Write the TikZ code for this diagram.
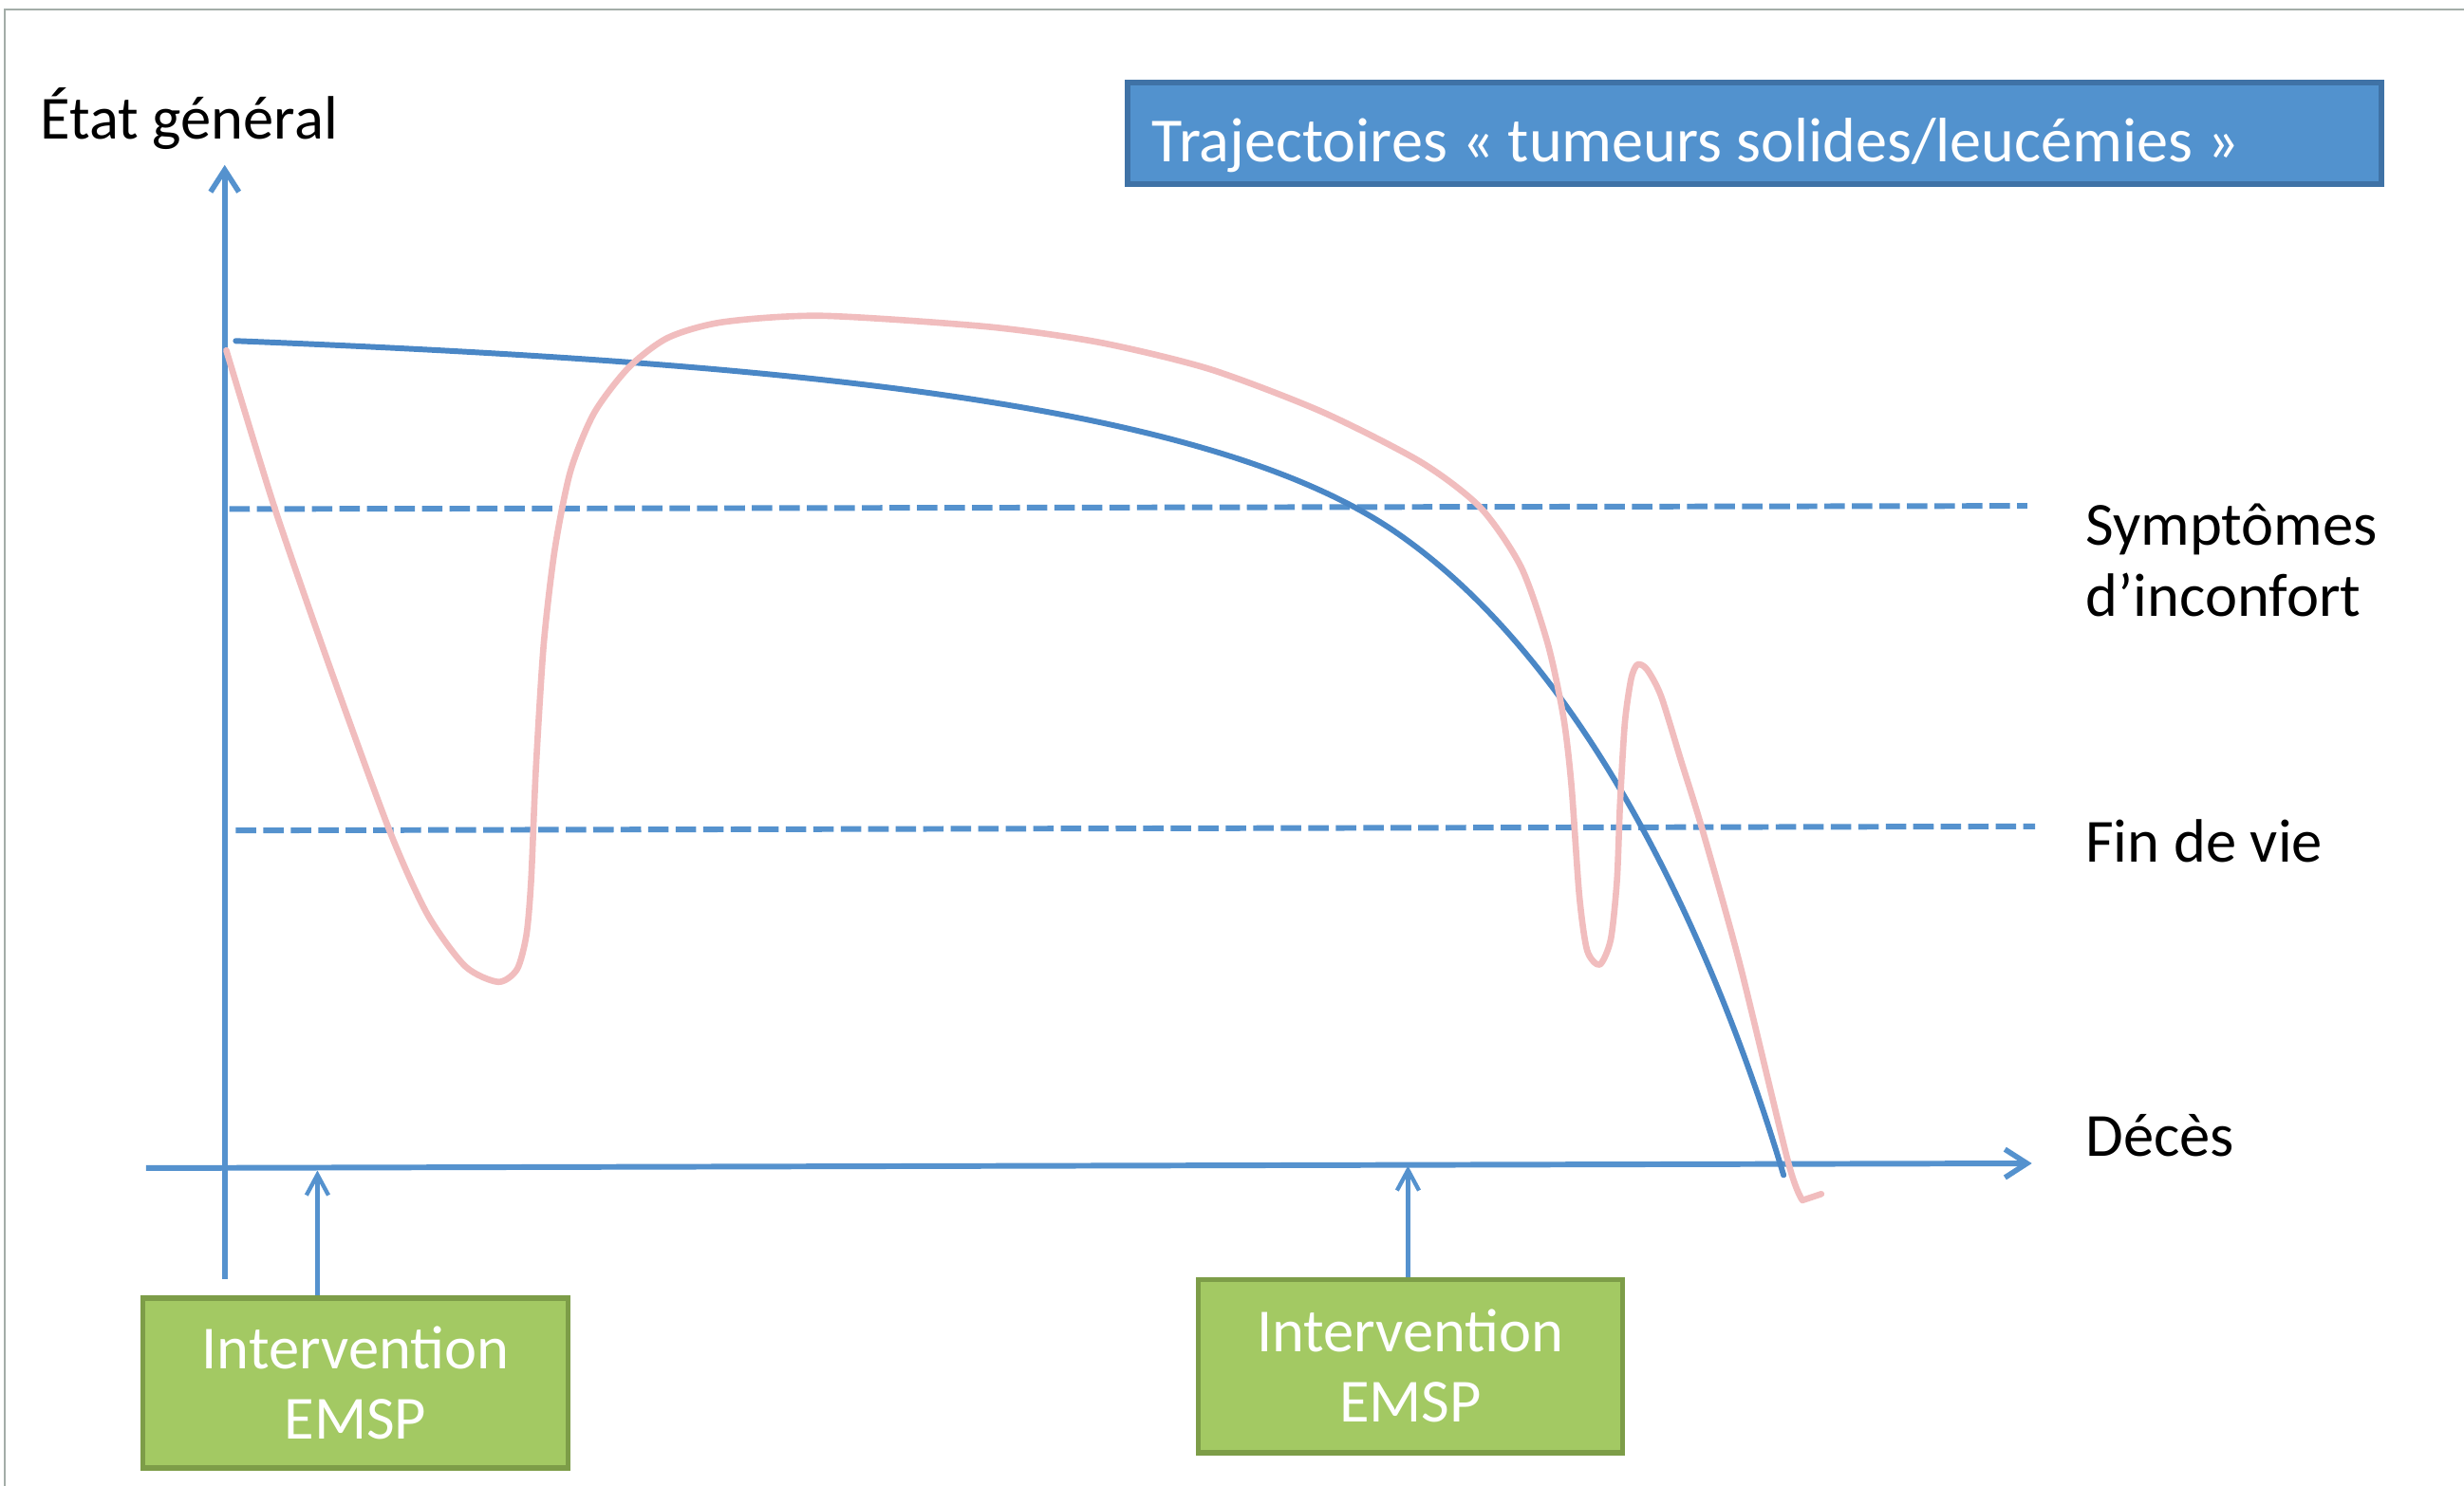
\documentclass[tikz,border=0pt]{standalone}
\usepackage{fontspec}
\setmainfont{Carlito}
\usetikzlibrary{arrows.meta}
\definecolor{axisblue}{HTML}{5592CE}
\definecolor{curveblue}{HTML}{4A87C6}
\definecolor{pinkc}{HTML}{F1BDBE}
\definecolor{titlefill}{HTML}{5292CE}
\definecolor{titledraw}{HTML}{3F72A6}
\definecolor{greenfill}{HTML}{A3C963}
\definecolor{greendraw}{HTML}{7D9D48}
\definecolor{framegray}{HTML}{A3ADA8}
\begin{document}
\begin{tikzpicture}[x=1pt,y=-1pt,
  lab/.style={font=\fontsize{39}{44.5}\selectfont, inner sep=0pt, anchor=base west, text=black},
  axisline/.style={draw=axisblue, line width=3.6pt, -{Straight Barb[length=14pt,width=18pt,line width=3.4pt]}},
  thinarrow/.style={draw=axisblue, line width=2.6pt, -{Straight Barb[length=13pt,width=14pt,line width=2.6pt]}},
  dashline/.style={draw=axisblue, line width=3.6pt, dash pattern=on 13pt off 4.5pt},
  greenbox/.style={draw=greendraw, fill=greenfill, line width=3.5pt, text=white,
    font=\fontsize{39}{44.5}\selectfont, align=center, inner sep=0pt},
  titlebox/.style={draw=titledraw, fill=titlefill, line width=3.5pt, inner sep=0pt},
  curveline/.style={draw=curveblue, line width=3.6pt, line cap=round},
  pinkline/.style={draw=pinkc, line width=4pt, line join=round, line cap=round}]
\useasboundingbox (0,0) rectangle (1568,945.3);
\fill[white] (0,0) rectangle (1568,945.3);
\draw[framegray, line width=1.5pt] (3,960) -- (3,6) -- (1580,6);

% title
\node[titlebox, minimum width=798pt, minimum height=65pt] (title) at (1116.5,84.9) {};
\node[inner sep=0pt, anchor=base west, text=white, font=\fontsize{40}{46}\selectfont] (titletext) at (733,102.7) {Trajectoires « tumeurs solides/leucémies »};

% labels
\node[lab] (etat) at (25.6,88.6) {État général};
\node[lab] (symp1) at (1327,347) {Symptômes};
\node[lab] (symp2) at (1327,392) {d’inconfort};
\node[lab] (fin) at (1327,549) {Fin de vie};
\node[lab] (deces) at (1327,736) {Décès};

% axes
\coordinate (yb) at (143,814);
\coordinate (yt) at (143,105);
\coordinate (xl) at (93,743.5);
\coordinate (xr) at (1293,740.5);
\draw[axisline] (yb) -- (yt);
\draw[axisline] (xl) -- (xr);

% dashed thresholds
\coordinate (d1a) at (146,324);
\coordinate (d1b) at (1290,322);
\coordinate (d2a) at (150,528.6);
\coordinate (d2b) at (1295,526);
\draw[dashline] (d1a) -- (d1b);
\draw[dashline] (d2a) -- (d2b);

% blue trajectory
\coordinate (b0) at (150,217);
\coordinate (b1) at (890,340);
\coordinate (b2) at (1135,748);
\draw[curveline] (b0) .. controls (500,231) and (770,256) .. (b1)
  .. controls (1022,432) and (1100,630) .. (b2);

% pink trajectory
\draw[pinkline] plot[smooth, tension=0.45] coordinates {(144,223) (175,324) (210,425) (248,529) (272,582) (296,615) (317,625) (329,617) (335,595) (338,560) (341,490) (346,410) (353,350) (363,300) (378,263) (400,234) (425,215) (460,205) (523,201) (629,208) (700,218) (770,235) (841,262) (904,294) (942,323) (968,361) (985,410) (995,457) (1000,500) (1005,570) (1010,605) (1018,614) (1025,598) (1029,560) (1031,510) (1034,460) (1038,432) (1042,423) (1048,426) (1057,443) (1070,485) (1083,527) (1107,613) (1138,740) (1147,764)} -- (1159,760);

% intervention boxes
\node[greenbox, minimum width=270.6pt, minimum height=108.5pt] (box1) at (226.2,880.3) {Intervention\\EMSP};
\node[greenbox, minimum width=270pt, minimum height=110pt] (box2) at (897.5,869.5) {Intervention\\EMSP};
\coordinate (a1) at (202,745);
\coordinate (a2) at (896,742);
\draw[thinarrow] (a1 |- box1.north) -- (a1);
\draw[thinarrow] (a2 |- box2.north) -- (a2);
\end{tikzpicture}
\end{document}
